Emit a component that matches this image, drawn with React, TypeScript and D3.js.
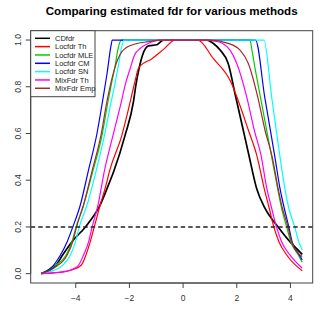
import React from 'react';
import * as d3 from 'd3';

// estimated fdr curves as [z, fdr] pairs
const cdfdr: [number, number][] = [
  [-5.29, 0], [-4.73, 0.037], [-4.49, 0.08], [-4.14, 0.137], [-3.64, 0.2], [-3.09, 0.294],
  [-2.78, 0.38], [-2.59, 0.436], [-2.16, 0.593], [-1.85, 0.736], [-1.76, 0.807], [-1.64, 0.879],
  [-1.51, 0.936], [-1.29, 0.975], [-0.98, 0.98], [-0.73, 1], [0.9, 1], [1.13, 0.985],
  [1.38, 0.957], [1.68, 0.9], [1.96, 0.757], [2.24, 0.615], [2.45, 0.508], [2.74, 0.365],
  [3.05, 0.28], [3.54, 0.2], [3.98, 0.137], [4.44, 0.083],
];
const locfdrTh: [number, number][] = [
  [-5.29, 0], [-4.8, 0.003], [-4.4, 0.008], [-4.1, 0.018], [-3.79, 0.037], [-3.62, 0.08],
  [-3.46, 0.137], [-3.31, 0.2], [-3.09, 0.294], [-2.87, 0.38], [-2.75, 0.436], [-2.28, 0.593],
  [-1.97, 0.736], [-1.8, 0.82], [-1.64, 0.885], [-1.16, 0.92], [-0.73, 0.96], [-0.3, 1],
  [0.55, 1], [1.13, 0.92], [1.78, 0.82], [2.0, 0.757], [2.43, 0.615], [2.76, 0.5],
  [3.02, 0.365], [3.21, 0.28], [3.38, 0.2], [3.57, 0.137], [3.86, 0.08], [4.44, 0.012],
];
const locfdrMle: [number, number][] = [
  [-5.29, 0], [-4.85, 0.03], [-4.36, 0.08], [-4.14, 0.137], [-3.99, 0.2], [-3.71, 0.294],
  [-3.37, 0.436], [-3.02, 0.593], [-2.8, 0.736], [-2.68, 0.807], [-2.55, 0.879], [-2.4, 0.975],
  [-2.3, 1], [2.49, 1], [2.56, 0.96], [2.68, 0.88], [2.88, 0.757], [3.3, 0.5], [3.52, 0.365],
  [3.67, 0.28], [3.86, 0.2], [4.01, 0.137], [4.29, 0.08], [4.44, 0.049],
];
const locfdrCm: [number, number][] = [
  [-5.29, 0], [-4.82, 0.037], [-4.57, 0.08], [-4.32, 0.137], [-4.11, 0.2], [-3.83, 0.294],
  [-3.54, 0.436], [-3.21, 0.6], [-3.0, 0.74], [-2.83, 0.86], [-2.68, 0.98], [-2.64, 1],
  [2.7, 1], [3.04, 0.757], [3.42, 0.5], [3.61, 0.365], [3.77, 0.28], [3.94, 0.2],
  [4.06, 0.137], [4.3, 0.085], [4.44, 0.059],
];
const locfdrSn: [number, number][] = [
  [-5.29, 0], [-4.8, 0.015], [-4.45, 0.04], [-4.2, 0.08], [-4.01, 0.137], [-3.87, 0.2],
  [-3.58, 0.294], [-3.25, 0.436], [-2.93, 0.593], [-2.68, 0.736], [-2.55, 0.807], [-2.43, 0.879],
  [-2.2, 1], [3.01, 1], [3.3, 0.757], [3.61, 0.5], [3.79, 0.365], [3.94, 0.28], [4.16, 0.2],
  [4.31, 0.137], [4.44, 0.101],
];
const mixFdrTh: [number, number][] = [
  [-5.29, 0], [-4.8, 0.004], [-4.4, 0.01], [-4.1, 0.02], [-3.89, 0.037], [-3.71, 0.08],
  [-3.52, 0.137], [-3.39, 0.2], [-3.17, 0.294], [-2.94, 0.436], [-2.61, 0.593], [-2.3, 0.736],
  [-2.16, 0.807], [-1.97, 0.879], [-1.81, 0.936], [-1.6, 0.964], [-1.29, 0.986], [-0.92, 1],
  [0.85, 1], [1.2, 0.995], [1.46, 0.986], [1.75, 0.957], [2.0, 0.9], [2.37, 0.757],
  [2.65, 0.615], [2.9, 0.508], [3.12, 0.365], [3.3, 0.28], [3.48, 0.2], [3.67, 0.137],
  [3.98, 0.08], [4.44, 0.023],
];
const mixFdrEmp: [number, number][] = [
  [-5.29, 0], [-4.8, 0.025], [-4.32, 0.08], [-4.11, 0.137], [-3.97, 0.2], [-3.71, 0.294],
  [-3.4, 0.436], [-3.06, 0.593], [-2.84, 0.736], [-2.71, 0.807], [-2.55, 0.879], [-2.28, 0.95],
  [-1.91, 0.979], [-1.29, 0.993], [-0.8, 1], [1.0, 1], [1.68, 0.986], [2.12, 0.957],
  [2.43, 0.9], [2.78, 0.757], [3.05, 0.615], [3.32, 0.5], [3.54, 0.365], [3.7, 0.28],
  [3.91, 0.2], [4.04, 0.137], [4.44, 0.073],
];

const seriesNames = ['CDfdr', 'Locfdr Th', 'Locfdr MLE', 'Locfdr CM', 'Locfdr SN', 'MixFdr Th', 'MixFdr Emp'];
const seriesData = [cdfdr, locfdrTh, locfdrMle, locfdrCm, locfdrSn, mixFdrTh, mixFdrEmp];
const seriesColors = ['#000000', '#ff0000', '#00cd00', '#0000ff', '#00ffff', '#ff00ff', '#a52a2a'];

const xTicks = [-4, -2, 0, 2, 4];
const yTicks = [0, 0.2, 0.4, 0.6, 0.8, 1.0];
const cutoff = 0.2;
const title = 'Comparing estimated fdr for various methods';

const width = 324;
const height = 314;
const margin = { top: 30.7, right: 11.3, bottom: 31, left: 30.7 };

export default function App() {
  const allX = seriesData.flat().map(d => d[0]);
  const [x0, x1] = d3.extent(allX) as [number, number];
  const pad = (x1 - x0) * 0.04;

  const x = d3.scaleLinear()
    .domain([x0 - pad, x1 + pad])
    .range([margin.left, width - margin.right]);
  const y = d3.scaleLinear()
    .domain([-0.04, 1.04])
    .range([height - margin.bottom, margin.top]);

  const line = d3.line<[number, number]>()
    .x(d => x(d[0]))
    .y(d => y(d[1]))
    .curve(d3.curveMonotoneX);

  const left = margin.left;
  const right = width - margin.right;
  const top = margin.top;
  const bottom = height - margin.bottom;
  const font = 'Liberation Sans, Arial, Helvetica, sans-serif';

  return (
    <svg width={width} height={height} style={{ position: 'fixed', left: 0, top: 0, background: '#fff' }}
      fontFamily={font}>
      <text x={(left + right) / 2} y={15} textAnchor="middle" fontWeight="bold" fontSize={11.6}>{title}</text>

      <g clipPath="url(#plotClip)">
        <clipPath id="plotClip">
          <rect x={left} y={top} width={right - left} height={bottom - top} />
        </clipPath>
        {seriesData.map((d, i) => (
          <path key={seriesNames[i]} d={line(d) || ''} fill="none" stroke={seriesColors[i]}
            strokeWidth={i === 0 ? 1.7 : 1.2} />
        ))}
        <line x1={left} x2={right} y1={y(cutoff)} y2={y(cutoff)} stroke="#222"
          strokeWidth={1.6} strokeDasharray="4.5,3" />
      </g>

      {/* axes */}
      <g stroke="#444" strokeWidth={1} fill="none">
        <rect x={left} y={top} width={right - left} height={bottom - top} />
        <line x1={x(xTicks[0])} x2={x(xTicks[xTicks.length - 1])} y1={bottom} y2={bottom} />
        {xTicks.map(t => <line key={t} x1={x(t)} x2={x(t)} y1={bottom} y2={bottom + 5} />)}
        <line x1={left} x2={left} y1={y(yTicks[0])} y2={y(yTicks[yTicks.length - 1])} />
        {yTicks.map(t => <line key={t} x1={left} x2={left - 5} y1={y(t)} y2={y(t)} />)}
      </g>
      <g fontSize={8.5} fill="#333">
        {xTicks.map(t => (
          <text key={t} x={x(t)} y={301} textAnchor="middle">{t < 0 ? '\u2212' + Math.abs(t) : t}</text>
        ))}
        {yTicks.map(t => (
          <text key={t} transform={`translate(20.6,${y(t)}) rotate(-90)`} textAnchor="middle">{t.toFixed(1)}</text>
        ))}
      </g>

      {/* legend */}
      <g>
        <rect x={left} y={top} width={64.3} height={66} fill="#fff" stroke="#444" strokeWidth={1} />
        {seriesNames.map((name, i) => {
          const yy = 38.3 + i * 8.33;
          return (
            <g key={name}>
              <line x1={35} x2={50} y1={yy} y2={yy} stroke={seriesColors[i]} strokeWidth={1.5} />
              <text x={55} y={yy + 2.7} fontSize={7.5} fill="#222">{name}</text>
            </g>
          );
        })}
      </g>
    </svg>
  );
}
